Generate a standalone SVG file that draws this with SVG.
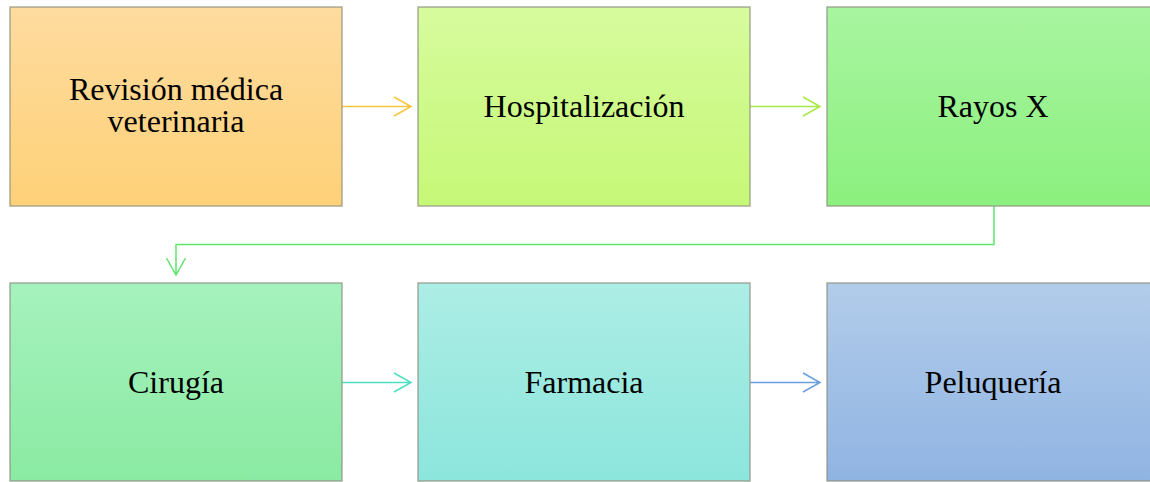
<svg xmlns="http://www.w3.org/2000/svg" width="1150" height="482" viewBox="0 0 1150 482">
<style>
.box{stroke:#8f9080;stroke-opacity:0.75;stroke-width:1.5}
.lbl{font-family:"Liberation Serif","Times New Roman",serif;font-size:32px;fill:#000;text-anchor:middle}
.c{fill:none;stroke-width:1.5}
</style>
<defs>
<linearGradient id="g1" x1="0" y1="0" x2="0" y2="1"><stop offset="0" stop-color="#FEDB9F"/><stop offset="1" stop-color="#FED178"/></linearGradient>
<linearGradient id="g2" x1="0" y1="0" x2="0" y2="1"><stop offset="0" stop-color="#D6FB9D"/><stop offset="1" stop-color="#C6F877"/></linearGradient>
<linearGradient id="g3" x1="0" y1="0" x2="0" y2="1"><stop offset="0" stop-color="#A8F5A0"/><stop offset="1" stop-color="#8BF07E"/></linearGradient>
<linearGradient id="g4" x1="0" y1="0" x2="0" y2="1"><stop offset="0" stop-color="#A6F2BE"/><stop offset="1" stop-color="#8AEAA2"/></linearGradient>
<linearGradient id="g5" x1="0" y1="0" x2="0" y2="1"><stop offset="0" stop-color="#ACEDE5"/><stop offset="1" stop-color="#8CE6DC"/></linearGradient>
<linearGradient id="g6" x1="0" y1="0" x2="0" y2="1"><stop offset="0" stop-color="#B2CCEA"/><stop offset="1" stop-color="#90B4E2"/></linearGradient>
</defs>
<g id="connectors">
<path class="c" stroke="#F9C53C" d="M342,106.5H411M394,97L411,106.5L394,116"/>
<path class="c" stroke="#A8EA45" d="M750,106.5H820M803,97L820,106.5L803,116"/>
<path class="c" stroke="#5EE66E" d="M994,206V244.5H176V275M166.5,258L176,275L185.5,258"/>
<path class="c" stroke="#4EDFC2" d="M342,382.5H411M394,373L411,382.5L394,392"/>
<path class="c" stroke="#6A9FDE" d="M750,382.5H820M803,373L820,382.5L803,392"/>
</g>
<g id="n1"><rect class="box" x="10" y="7" width="332" height="199" fill="url(#g1)"/><text class="lbl" x="176" y="100">Revisión médica</text><text class="lbl" x="176" y="132">veterinaria</text></g>
<g id="n2"><rect class="box" x="418" y="7" width="332" height="199" fill="url(#g2)"/><text class="lbl" x="584" y="117">Hospitalización</text></g>
<g id="n3"><rect class="box" x="827" y="7" width="332" height="199" fill="url(#g3)"/><text class="lbl" x="993" y="117">Rayos X</text></g>
<g id="n4"><rect class="box" x="10" y="283" width="332" height="198" fill="url(#g4)"/><text class="lbl" x="176" y="393">Cirugía</text></g>
<g id="n5"><rect class="box" x="418" y="283" width="332" height="198" fill="url(#g5)"/><text class="lbl" x="584" y="393">Farmacia</text></g>
<g id="n6"><rect class="box" x="827" y="283" width="332" height="198" fill="url(#g6)"/><text class="lbl" x="993" y="393">Peluquería</text></g>
</svg>
